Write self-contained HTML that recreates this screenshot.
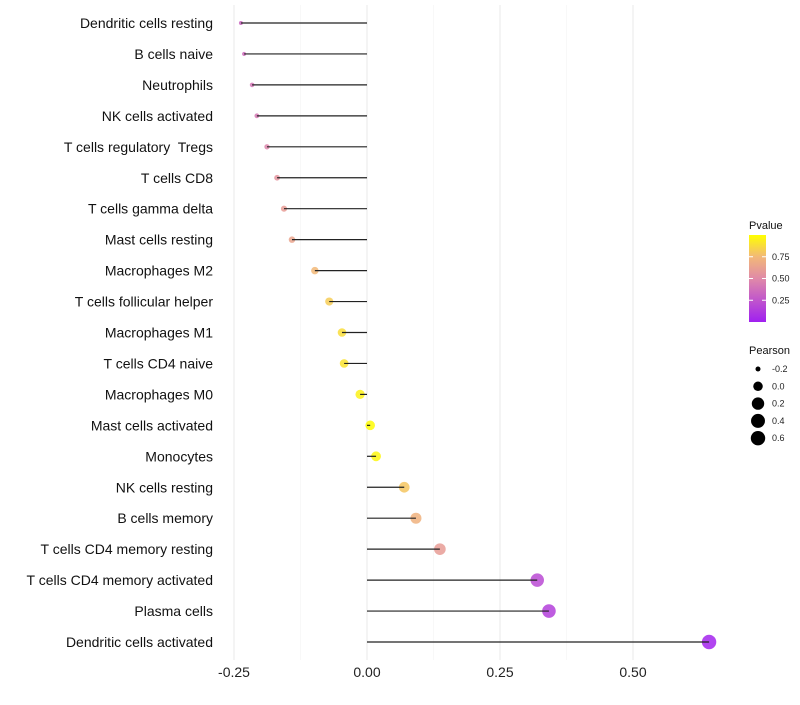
<!DOCTYPE html>
<html><head><meta charset="utf-8"><style>
body{margin:0;background:#fff;font-family:"Liberation Sans",sans-serif;}
svg text{font-family:"Liberation Sans",sans-serif;white-space:pre;}
</style></head><body>
<svg id="chart" width="800" height="700">
<defs><linearGradient id="pg" x1="0" y1="1" x2="0" y2="0">
<stop offset="0" stop-color="#a020f0"/><stop offset="0.5" stop-color="#e08aa8"/><stop offset="0.75" stop-color="#f2b878"/><stop offset="1" stop-color="#ffff00"/>
</linearGradient></defs>
<g id="grid"></g><g id="marks"></g><g id="labels"></g><g id="legend"></g>
</svg>
<script>
const categories=["Dendritic cells resting","B cells naive","Neutrophils","NK cells activated","T cells regulatory  Tregs","T cells CD8","T cells gamma delta","Mast cells resting","Macrophages M2","T cells follicular helper","Macrophages M1","T cells CD4 naive","Macrophages M0","Mast cells activated","Monocytes","NK cells resting","B cells memory","T cells CD4 memory resting","T cells CD4 memory activated","Plasma cells","Dendritic cells activated"];
const pearson=[-0.237,-0.231,-0.216,-0.207,-0.188,-0.169,-0.156,-0.141,-0.098,-0.071,-0.047,-0.043,-0.013,0.006,0.017,0.070,0.092,0.137,0.320,0.342,0.643];
const pvalue=[0.33,0.36,0.4,0.42,0.48,0.55,0.6,0.64,0.75,0.82,0.88,0.9,0.95,0.99,0.97,0.8,0.72,0.6,0.2,0.15,0.02];
const xTicks=[-0.25,0,0.25,0.5];
const xTickLabels=["-0.25","0.00","0.25","0.50"];
const sizeBreaks=[-0.2,0,0.2,0.4,0.6];
const NS="http://www.w3.org/2000/svg";
const x=v=>367+v*532;
const y=i=>23+i*30.95;
const r=v=>7.2-5.2*Math.pow(Math.max(0,(0.643-v)/0.88),2.4);
const stops=[[0,[160,32,240]],[0.5,[224,138,168]],[0.75,[242,184,120]],[1,[255,255,0]]];
function col(p){
 for(let k=0;k<stops.length-1;k++){const [p0,c0]=stops[k],[p1,c1]=stops[k+1];
  if(p<=p1){const t=(p-p0)/(p1-p0);return "rgb("+c0.map((v,j)=>Math.round(v+(c1[j]-v)*t)).join(",")+")";}}
 return "rgb(255,255,0)";
}
function mk(tag,at,par){const e=document.createElementNS(NS,tag);for(const k in at)e.setAttribute(k,at[k]);par.appendChild(e);return e;}
const grid=document.getElementById('grid'),marks=document.getElementById('marks'),labels=document.getElementById('labels'),leg=document.getElementById('legend');
[-0.125,0.125,0.375].forEach(v=>{const l=mk('line',{x1:x(v),x2:x(v),y1:5,y2:660,stroke:'#f4f4f4','stroke-width':0.6},grid);

});
xTicks.forEach((v,i)=>{const l=mk('line',{x1:x(v),x2:x(v),y1:5,y2:660,stroke:'#ebebeb','stroke-width':1.1},grid);


const t=mk('text',{x:x(v),y:677,'text-anchor':'middle','font-size':14,fill:'#222'},labels);t.textContent=xTickLabels[i];

});
categories.forEach((c,i)=>{
 const d=mk('circle',{cx:x(pearson[i]),cy:y(i),r:r(pearson[i]),fill:col(pvalue[i]),'fill-opacity':0.85},marks);
 
 
 const s=mk('line',{x1:x(0),x2:x(pearson[i]),y1:y(i),y2:y(i),stroke:'#222','stroke-width':1.2},marks);
 
 
 const t=mk('text',{x:213,y:y(i)+5,'text-anchor':'end','font-size':14,fill:'#111'},labels);t.textContent=c;
 
 
});
const lt=mk('text',{x:749,y:229,'font-size':11,fill:'#111'},leg);lt.textContent="Pvalue";


const bar=mk('rect',{x:749,y:235,width:17,height:87,fill:'url(#pg)'},leg);


[0.25,0.5,0.75].forEach(p=>{const yy=322-p*87;
 mk('line',{x1:749,x2:753,y1:yy,y2:yy,stroke:'#fff'},leg);mk('line',{x1:762,x2:766,y1:yy,y2:yy,stroke:'#fff'},leg);
 const t=mk('text',{x:772,y:yy+3,'font-size':9,fill:'#222'},leg);t.textContent=p.toFixed(2);
 
 });
const st=mk('text',{x:749,y:354,'font-size':11,fill:'#111'},leg);st.textContent="Pearson";


sizeBreaks.forEach((v,i)=>{const yy=369+i*17.3;
 const c=mk('circle',{cx:758,cy:yy,r:r(v),fill:'#000'},leg);
 
 
 const t=mk('text',{x:772,y:yy+3,'font-size':9,fill:'#222'},leg);t.textContent=v.toFixed(1);
 
 });
</script>
</body></html>
